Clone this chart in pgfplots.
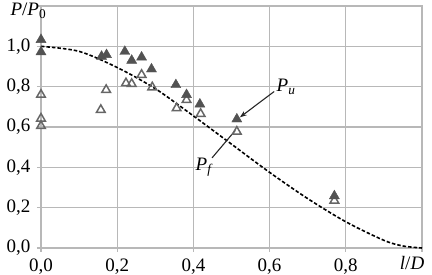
\documentclass[border=0pt]{standalone}
\usepackage{fontspec}
\setmainfont{Liberation Serif}
\usepackage{pgfplots}
\pgfplotsset{compat=1.18}
\usetikzlibrary{arrows.meta}
\begin{document}
\fontsize{19}{22}\selectfont
\begin{tikzpicture}
\path[use as bounding box] (-41pt,-27pt) rectangle (391pt,248pt);
\begin{axis}[
 scale only axis, width=381pt, height=242pt,
 at={(0,0)}, anchor=south west,
 xmin=0, xmax=1, ymin=0, ymax=1.2,
 xtick={0,0.2,0.4,0.6,0.8,1.0},
 xticklabels={{0,0},{0,2},{0,4},{0,6},{0,8},{}},
 ytick={0,0.2,0.4,0.6,0.8,1.0,1.2},
 yticklabels={{0,0},{0,2},{0,4},{0,6},{0,8},{1,0},{}},
 grid=major,
 major grid style={black!28, line width=1.1pt},
 axis line style={black!28, line width=1.1pt},
 tick style={black!28, line width=1.1pt},
 tick align=outside, major tick length=4pt,
 tick pos=left,
 tick label style={font=\fontsize{19}{22}\selectfont},
 clip=false,
]
% theoretical curve
\addplot[black, line width=1.6pt, dash pattern=on 3.5pt off 2pt, smooth] coordinates {
 (0,1.0) (0.1,0.975) (0.2,0.895) (0.3,0.79) (0.4,0.655) (0.5,0.515)
 (0.6,0.375) (0.7,0.245) (0.8,0.13) (0.9,0.038) (0.95,0.01) (1.0,0.0)};
% P_f open
\addplot[only marks, mark=triangle, mark size=5pt, black!60, line width=1.5pt, mark options={fill=white}] coordinates {
 (0,0.76) (0,0.642) (0,0.605) (0.157,0.685) (0.171,0.784) (0.223,0.817)
 (0.238,0.814) (0.264,0.859) (0.292,0.797) (0.356,0.693) (0.382,0.734)
 (0.419,0.665) (0.514,0.577) (0.77,0.235)};
% P_u filled
\addplot[only marks, mark=triangle*, mark size=5.8pt, black!68] coordinates {
 (0,1.033) (0,0.972) (0.159,0.95) (0.172,0.958) (0.22,0.974) (0.238,0.93)
 (0.264,0.946) (0.29,0.887) (0.354,0.809) (0.382,0.76) (0.417,0.713)
 (0.514,0.639) (0.77,0.258)};
\draw[black!85, line width=1.1pt, -{Stealth[length=7pt,width=5pt]}] (axis cs:0.612,0.776) -- (axis cs:0.522,0.648);
\draw[black!85, line width=1.1pt] (axis cs:0.449,0.447) -- (axis cs:0.51,0.583);
\node[anchor=west, inner sep=0pt] at (axis cs:0.618,0.80) {\textit{P}\textsubscript{\textit{u}}};
\node[anchor=east, inner sep=0pt] at (axis cs:0.452,0.40) {\textit{P}\textsubscript{\textit{f}}};
\node[inner sep=0pt] at (axis cs:-0.033,1.175) {\textit{P}/\textit{P}\textsubscript{0}};
\node[inner sep=0pt] at (axis cs:0.974,-0.075) {\textit{l}/\textit{D}};
\end{axis}
\end{tikzpicture}
\end{document}
